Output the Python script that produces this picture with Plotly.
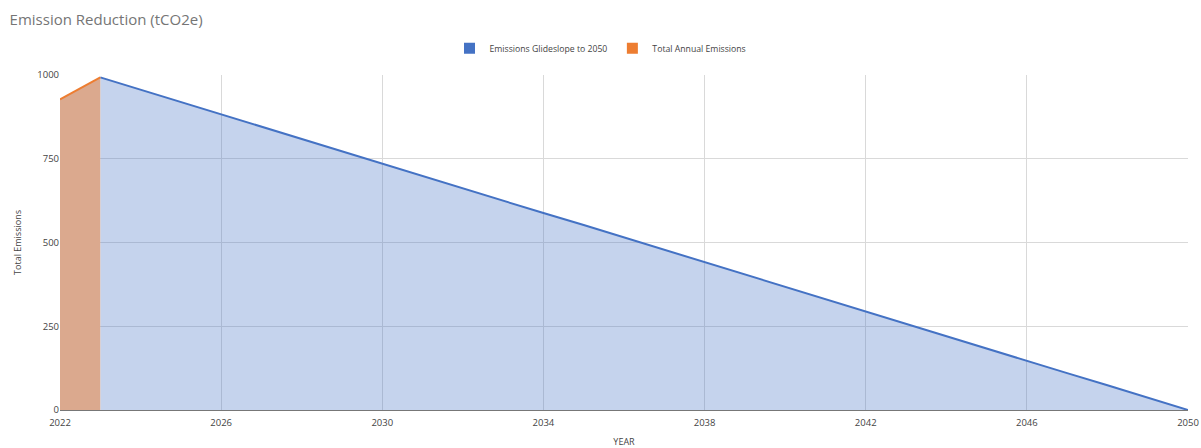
import plotly.graph_objects as go

years_glide = list(range(2023, 2051))
glide_values = [993, 956, 919, 883, 846, 809, 772, 736, 699, 662, 625, 588, 552, 515,
                478, 441, 404, 368, 331, 294, 257, 221, 184, 147, 110, 74, 37, 0]
years_actual = [2022, 2023]
actual_values = [927, 993]
x_ticks = [2022, 2026, 2030, 2034, 2038, 2042, 2046, 2050]
y_ticks = [0, 250, 500, 750, 1000]

FONT = "Open Sans, Noto Sans, sans-serif"
BLUE = "#4472C4"
ORANGE = "#ED7D31"

fig = go.Figure()
fig.add_trace(go.Scatter(
    x=years_glide, y=glide_values, mode="lines", name="Emissions Glideslope to 2050",
    line=dict(color=BLUE, width=2), fill="tozeroy",
    fillcolor="rgba(68,114,196,0.31)", showlegend=False))
fig.add_trace(go.Scatter(
    x=years_actual, y=actual_values, mode="lines", name="Total Annual Emissions",
    line=dict(color=ORANGE, width=2), fill="tozeroy",
    fillcolor="rgb(219,169,142)", showlegend=False))
# legend-only square swatches
fig.add_trace(go.Scatter(x=[None], y=[None], mode="markers", name="Emissions Glideslope to 2050",
                         marker=dict(symbol="square", size=11, color=BLUE)))
fig.add_trace(go.Scatter(x=[None], y=[None], mode="markers", name="Total Annual Emissions",
                         marker=dict(symbol="square", size=11, color=ORANGE)))

fig.update_layout(
    width=1201, height=448,
    margin=dict(l=60, r=13, t=75, b=38, autoexpand=False),
    paper_bgcolor="white", plot_bgcolor="white",
    font=dict(family=FONT, size=10, color="#444444"),
    title=dict(text="Emission Reduction (tCO2e)", x=0.008, xanchor="left", y=0.955, yanchor="middle",
               font=dict(family=FONT, size=15, color="#757575")),
    legend=dict(orientation="h", xref="container", x=0.5, xanchor="center", y=1.08, yanchor="middle",
                font=dict(size=8.7, color="#444444"), itemwidth=30,
                traceorder="normal"),
    showlegend=True,
    xaxis=dict(range=[2022, 2050], tickvals=x_ticks, ticktext=[str(v) for v in x_ticks],
               showgrid=True, gridcolor="#d9d9d9", gridwidth=1, zeroline=False,
               showline=True, linecolor="#777777", linewidth=1, ticks="", automargin=False,
               ticklabelstandoff=4,
               title=dict(text="YEAR", font=dict(size=9, color="#444444"), standoff=18),
               tickfont=dict(size=9.5, color="#444444")),
    yaxis=dict(range=[0, 1000], tickvals=y_ticks, showgrid=True, gridcolor="#d9d9d9",
               zeroline=False, showline=False, ticks="", automargin=False,
               title=dict(text="Total Emissions", font=dict(size=9, color="#444444"), standoff=14),
               tickfont=dict(size=9.5, color="#444444")),
)
fig.write_html("out.html")
